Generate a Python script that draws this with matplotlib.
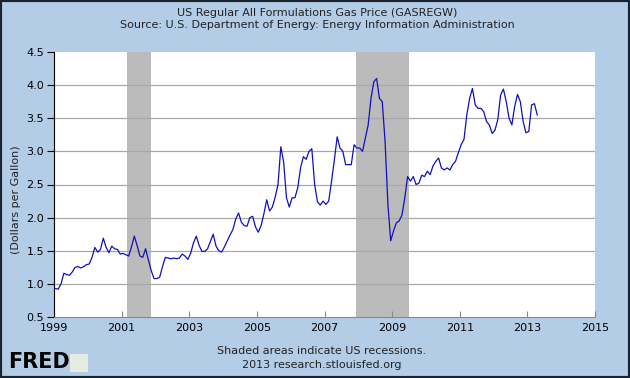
import numpy as np
import matplotlib
matplotlib.use("Agg")
import matplotlib.pyplot as plt
from matplotlib.patches import Rectangle

# Monthly gas price (dollars per gallon), Jan 1999 .. Apr 2013
p1999 = [0.93, 0.92, 1.00, 1.16, 1.14, 1.13, 1.18, 1.25, 1.26, 1.24, 1.26, 1.29]
p2000 = [1.30, 1.40, 1.55, 1.48, 1.52, 1.69, 1.55, 1.47, 1.57, 1.53, 1.52, 1.45]
p2001 = [1.46, 1.44, 1.42, 1.56, 1.72, 1.58, 1.42, 1.40, 1.53, 1.36, 1.20, 1.08]
p2002 = [1.08, 1.10, 1.26, 1.40, 1.39, 1.38, 1.39, 1.38, 1.39, 1.45, 1.42, 1.37]
p2003 = [1.46, 1.62, 1.72, 1.58, 1.49, 1.49, 1.53, 1.64, 1.75, 1.57, 1.50, 1.48]
p2004 = [1.56, 1.65, 1.74, 1.82, 1.98, 2.07, 1.93, 1.88, 1.87, 2.00, 2.02, 1.86]
p2005 = [1.78, 1.88, 2.06, 2.27, 2.10, 2.16, 2.31, 2.50, 3.07, 2.84, 2.30, 2.16]
p2006 = [2.30, 2.30, 2.45, 2.75, 2.92, 2.88, 3.00, 3.04, 2.50, 2.24, 2.19, 2.25]
p2007 = [2.20, 2.25, 2.55, 2.87, 3.22, 3.05, 3.00, 2.80, 2.80, 2.80, 3.10, 3.05]
p2008 = [3.05, 3.00, 3.20, 3.40, 3.80, 4.05, 4.10, 3.80, 3.75, 3.15, 2.20, 1.65]
p2009 = [1.80, 1.92, 1.95, 2.04, 2.30, 2.62, 2.55, 2.62, 2.50, 2.52, 2.64, 2.62]
p2010 = [2.70, 2.65, 2.78, 2.85, 2.90, 2.75, 2.72, 2.75, 2.72, 2.80, 2.85, 2.98]
p2011 = [3.10, 3.18, 3.55, 3.80, 3.95, 3.70, 3.65, 3.65, 3.60, 3.45, 3.40, 3.27]
p2012 = [3.32, 3.48, 3.85, 3.94, 3.75, 3.50, 3.40, 3.68, 3.86, 3.75, 3.45, 3.28]
p2013 = [3.30, 3.70, 3.72, 3.55]

recessions = [(2001.17, 2001.87), (2007.92, 2009.5)]
xticks = [1999, 2001, 2003, 2005, 2007, 2009, 2011, 2013, 2015]
yticks = [0.5, 1.0, 1.5, 2.0, 2.5, 3.0, 3.5, 4.0, 4.5]

price = np.array(p1999 + p2000 + p2001 + p2002 + p2003 + p2004 + p2005 + p2006
                 + p2007 + p2008 + p2009 + p2010 + p2011 + p2012 + p2013)
t = 1999 + (np.arange(len(price)) + 0.5) / 12.0

bg = "#B4CDE6"
fig = plt.figure(figsize=(6.3, 3.78), dpi=100, facecolor=bg)
ax = fig.add_axes([54 / 630, 61 / 378, 541 / 630, 265 / 378])
ax.set_facecolor("white")

for a, b in recessions:
    ax.axvspan(a, b, color="#BBBBBB", lw=0, zorder=1)

ax.set_yticks(yticks)
ax.set_xticks(xticks)
for y in yticks[1:-1]:
    ax.axhline(y, color="#A8A8A8", lw=0.9, zorder=2)

ax.plot(t, price, color="#1010C0", lw=0.9, zorder=3)

ax.set_xlim(1999, 2015)
ax.set_ylim(0.5, 4.5)
for s in ["top", "right"]:
    ax.spines[s].set_visible(False)
ax.spines["left"].set_color("black")
ax.spines["bottom"].set_color("#888888")
ax.tick_params(axis="y", direction="out", length=5, width=0.8, labelsize=8, pad=2, colors="black")
ax.tick_params(axis="x", direction="in", length=4, width=0.8, color="#888888", labelsize=8, pad=4)
ax.set_yticklabels([f"{v:.1f}" for v in yticks])
ax.set_xticklabels([str(v) for v in xticks])

fig.text(16 / 630, 1 - 200 / 378, "(Dollars per Gallon)", rotation=90, ha="center", va="center",
         fontsize=8, color="#222222")
fig.text(317 / 630, 1 - 13 / 378, "US Regular All Formulations Gas Price (GASREGW)",
         ha="center", va="center", fontsize=8, color="#222222")
fig.text(317 / 630, 1 - 25 / 378, "Source: U.S. Department of Energy: Energy Information Administration",
         ha="center", va="center", fontsize=8, color="#222222")
fig.text(322 / 630, 1 - 351 / 378, "Shaded areas indicate US recessions.",
         ha="center", va="center", fontsize=8, color="#222222")
fig.text(322 / 630, 1 - 365 / 378, "2013 research.stlouisfed.org",
         ha="center", va="center", fontsize=8, color="#222222")

# FRED logo
fig.text(8 / 630, 1 - 362 / 378, "FRED", ha="left", va="center", fontsize=15,
         fontweight="bold", color="black", family="Liberation Sans Narrow")
fig.patches.append(Rectangle((70 / 630, 1 - 372 / 378), 18 / 630, 18 / 378,
                             transform=fig.transFigure, facecolor="#E4EDE0", edgecolor="none"))

# dark frame
fig.patches.append(Rectangle((0, 0), 1, 1, transform=fig.transFigure, fill=False,
                             edgecolor="#1A2430", lw=3))

fig.savefig("out.png", dpi=100, facecolor=bg)
